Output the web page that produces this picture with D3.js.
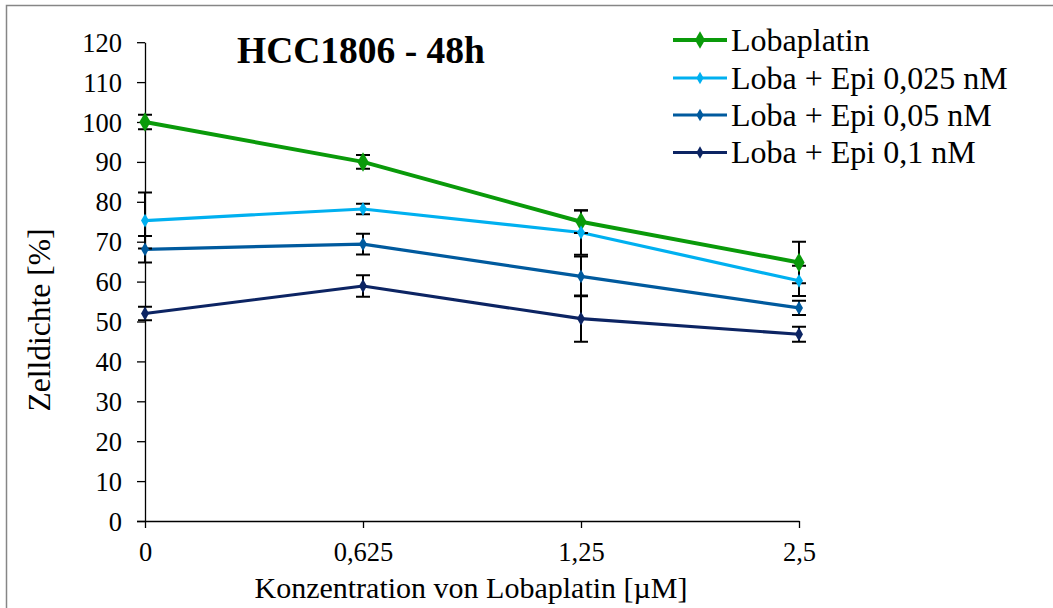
<!DOCTYPE html>
<html>
<head>
<meta charset="utf-8">
<script src="https://cdn.jsdelivr.net/npm/d3@7"></script>
<style>
  html, body { margin: 0; padding: 0; background: #fff; }
</style>
</head>
<body>
<svg id="chart" width="1053" height="608"></svg>
<script>
// Lobaplatin concentrations (x categories)
const concentrations = ["0", "0,625", "1,25", "2,5"];

// Series names
const seriesNames = ["Lobaplatin", "Loba + Epi 0,025 nM", "Loba + Epi 0,05 nM", "Loba + Epi 0,1 nM"];

// Cell density [%] per series
const lobaplatin   = [100, 90, 75, 64.8];
const epi0025      = [75.3, 78.2, 72.3, 60.2];
const epi005       = [68.1, 69.4, 61.3, 53.4];
const epi01        = [52.0, 58.9, 50.7, 46.8];

// Error (± deviation) per series
const lobaplatinErr = [1.8, 1.7, 2.8, 5.2];
const epi0025Err    = [7.0, 1.3, 5.6, 3.8];
const epi005Err     = [3.3, 2.6, 5.0, 1.8];
const epi01Err      = [1.7, 2.7, 5.8, 1.9];

// Y axis ticks
const yTicks = [0, 10, 20, 30, 40, 50, 60, 70, 80, 90, 100, 110, 120];

const FONT = "'Liberation Serif', Tinos, 'Times New Roman', Times, 'DejaVu Serif', serif";

const colors = ["#0A9A0A", "#00B0F0", "#005A9E", "#0C2463"];
const lineWidths = [4, 3.2, 3.2, 3.2];
const markerSizes = [110, 55, 55, 55];

const series = [
  { name: seriesNames[0], values: lobaplatin, err: lobaplatinErr },
  { name: seriesNames[1], values: epi0025,    err: epi0025Err },
  { name: seriesNames[2], values: epi005,     err: epi005Err },
  { name: seriesNames[3], values: epi01,      err: epi01Err }
].map((s, i) => ({ ...s, color: colors[i], width: lineWidths[i], msize: markerSizes[i] }));

const svg = d3.select("#chart");

// Outer chart frame
svg.append("rect")
  .attr("x", 6.5).attr("y", 5.5)
  .attr("width", 1100).attr("height", 700)
  .attr("fill", "#fff")
  .attr("stroke", "#868686").attr("stroke-width", 1.5);

const x = d3.scalePoint().domain(concentrations).range([145, 799]);
const y = d3.scaleLinear().domain([0, 120]).range([521, 42.2]);

// Y axis
const yAxis = svg.append("g")
  .attr("transform", "translate(145,0)")
  .call(d3.axisLeft(y).tickValues(yTicks).tickSize(8).tickSizeOuter(0).tickPadding(15));
yAxis.attr("font-family", null).attr("font-size", null);
yAxis.select(".domain").attr("stroke", "#000").attr("stroke-width", 1.3);
yAxis.selectAll(".tick line").attr("stroke", "#000").attr("stroke-width", 1.3);
yAxis.selectAll(".tick text")
  .attr("fill", "#000")
  .style("font-size", "26.5px")
  .attr("dy", "0.34em");

// X axis
const xAxis = svg.append("g")
  .attr("transform", "translate(0,521)")
  .call(d3.axisBottom(x).tickSize(7).tickSizeOuter(0).tickPadding(14));
xAxis.attr("font-family", null).attr("font-size", null);
xAxis.select(".domain").attr("stroke", "#000").attr("stroke-width", 1.3)
  .attr("d", "M137,0.5H799.5");
xAxis.selectAll(".tick line").attr("stroke", "#000").attr("stroke-width", 1.3);
xAxis.selectAll(".tick text")
  .attr("fill", "#000")
  .style("font-size", "26.5px");

// Series lines
const line = d3.line()
  .x((d, i) => x(concentrations[i]))
  .y(d => y(d));

svg.append("g").selectAll("path")
  .data(series)
  .join("path")
  .attr("d", s => line(s.values))
  .attr("fill", "none")
  .attr("stroke", s => s.color)
  .attr("stroke-width", s => s.width)
  .attr("stroke-linejoin", "round");

// Error bars
const capHalf = 7;
const errG = svg.append("g").attr("stroke", "#000").attr("stroke-width", 2).attr("fill", "none");
series.forEach(s => {
  s.values.forEach((v, i) => {
    const cx = x(concentrations[i]);
    const top = y(v + s.err[i]);
    const bot = y(v - s.err[i]);
    errG.append("path")
      .attr("d", `M${cx},${top}V${bot}M${cx - capHalf},${top}H${cx + capHalf}M${cx - capHalf},${bot}H${cx + capHalf}`);
  });
});

// Diamond markers
const diamond = d3.symbol().type(d3.symbolDiamond);
series.forEach(s => {
  svg.append("g").selectAll("path")
    .data(s.values)
    .join("path")
    .attr("transform", (d, i) => `translate(${x(concentrations[i])},${y(d)})`)
    .attr("d", diamond.size(s.msize)())
    .attr("fill", s.color);
});

// Title
svg.append("text")
  .attr("x", 361).attr("y", 63)
  .attr("text-anchor", "middle")
  .style("font-size", "37.5px")
  .style("font-weight", "bold")
  .text("HCC1806 - 48h");

// Axis titles
svg.append("text")
  .attr("x", 471).attr("y", 598)
  .attr("text-anchor", "middle")
  .style("font-size", "30px")
  .text("Konzentration von Lobaplatin [µM]");

svg.append("text")
  .attr("transform", "translate(50,320) rotate(-90)")
  .attr("text-anchor", "middle")
  .style("font-size", "31.5px")
  .text("Zelldichte [%]");

// Legend
const legend = svg.append("g");
const legendRows = [40, 78, 115, 152.5];
series.forEach((s, i) => {
  const ly = legendRows[i];
  legend.append("line")
    .attr("x1", 673).attr("x2", 727)
    .attr("y1", ly).attr("y2", ly)
    .attr("stroke", s.color).attr("stroke-width", s.width);
  legend.append("path")
    .attr("transform", `translate(700,${ly})`)
    .attr("d", diamond.size(s.msize * 0.8)())
    .attr("fill", s.color);
  legend.append("text")
    .attr("x", 731).attr("y", ly + 10.5)
    .style("font-size", "32px")
    .text(s.name);
});

// Serif typeface for every label
svg.selectAll("text").style("font-family", FONT);
</script>
</body>
</html>
